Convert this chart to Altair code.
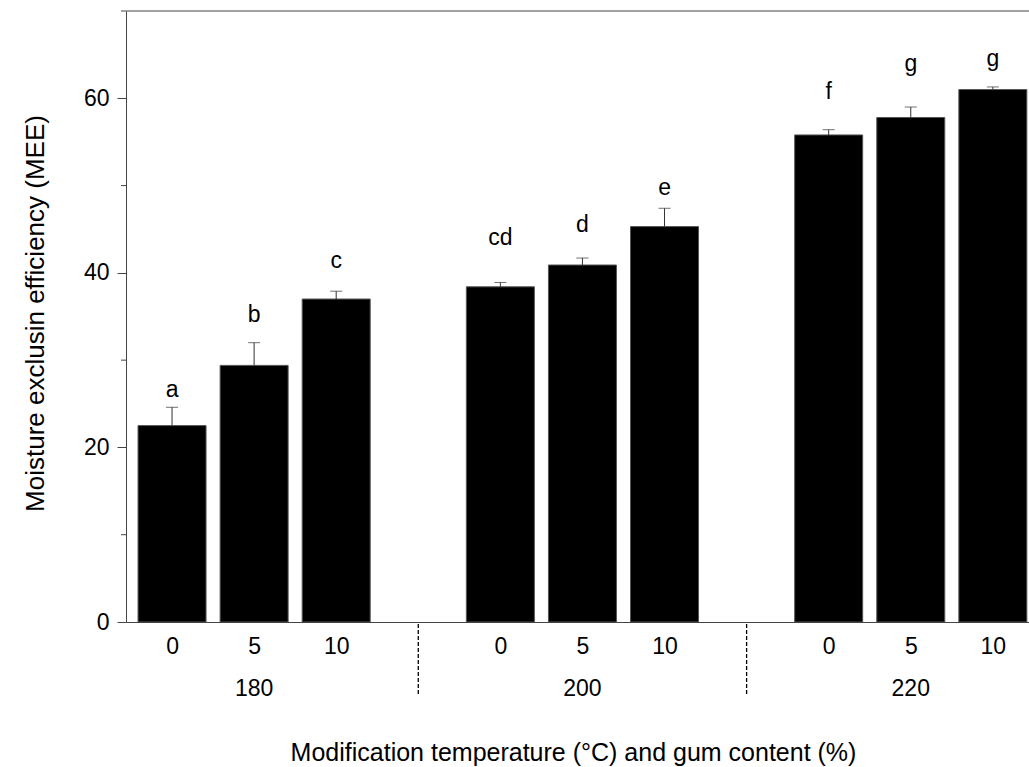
import altair as alt
import pandas as pd

# ---- data ----
positions = [0, 1, 2, 4, 5, 6, 8, 9, 10]          # slot index of each bar
gum_content = ["0", "5", "10", "0", "5", "10", "0", "5", "10"]
mee = [22.5, 29.4, 37.0, 38.4, 40.9, 45.3, 55.8, 57.8, 61.0]
err_upper = [24.6, 32.0, 37.9, 38.9, 41.7, 47.4, 56.4, 59.0, 61.3]
letters = ["a", "b", "c", "cd", "d", "e", "f", "g", "g"]
letter_y = [25.8, 34.4, 40.6, 43.2, 44.7, 48.9, 59.9, 63.1, 63.7]

temperatures = ["180", "200", "220"]
temperature_pos = [1, 5, 9]
separator_pos = [3, 7]

major_ticks = [0, 20, 40, 60]
minor_ticks = [10, 30, 50, 70]

FONT = "Liberation Sans"
W, H = 903, 611
TICK_FS = 23

df = pd.DataFrame({
    "pos": positions, "gum": gum_content, "mee": mee, "err": err_upper,
    "letter": letters, "ly": letter_y,
})
groups = pd.DataFrame({"pos": temperature_pos, "temp": temperatures})
seps = pd.DataFrame({"pos": separator_pos})
minors = pd.DataFrame({"mee": minor_ticks})

xscale = alt.Scale(domain=[-0.5, -0.5 + W / 83.0], nice=False, zero=False)
yscale = alt.Scale(domain=[0, 70], nice=False)

X_TITLE = "Modification temperature (°C) and gum content (%)"
Y_TITLE = "Moisture exclusin efficiency (MEE)"

x_axis = alt.Axis(
    values=positions,
    labelExpr="['0','5','10'][datum.value % 4]",
    ticks=False, tickSize=0, grid=False,
    labelFontSize=TICK_FS, labelFont=FONT, labelColor="black", labelPadding=13,
    domainColor="#444", domainWidth=1,
    title=X_TITLE,
    titleFont=FONT, titleFontSize=25, titleFontWeight="normal", titleColor="black",
    titleX=447, titleY=130, titleAlign="center", titleBaseline="middle",
    labelFlush=False,
)
y_axis = alt.Axis(
    values=major_ticks, grid=False,
    tickSize=9, tickColor="#444", domainColor="#444",
    labelFontSize=TICK_FS, labelFont=FONT, labelColor="black", labelPadding=8,
    title=Y_TITLE,
    titleFont=FONT, titleFontSize=26, titleFontWeight="normal", titleColor="black",
    titleX=-91, titleY=302, titleAngle=-90, titleAlign="center", titleBaseline="middle",
)

X = alt.X("pos:Q", scale=xscale, axis=x_axis, title=X_TITLE)


def Y(field):
    return alt.Y(field, scale=yscale, axis=y_axis, title=Y_TITLE)


base = alt.Chart(df)

bars = base.mark_bar(size=68, color="black", stroke="#555", strokeWidth=1, clip=True).encode(
    x=X, y=Y("mee:Q"),
)

err_line = base.mark_rule(color="#333", strokeWidth=1, clip=True).encode(
    x=X, y=Y("mee:Q"), y2="err:Q",
)
err_cap = base.mark_tick(orient="horizontal", size=12, thickness=1, color="#333", clip=True).encode(
    x=X, y=Y("err:Q"),
)

letter_text = base.mark_text(font=FONT, fontSize=23, baseline="alphabetic", align="center", color="black").encode(
    x=X, y=Y("ly:Q"), text="letter:N",
)

group_text = alt.Chart(groups).mark_text(font=FONT, fontSize=TICK_FS, baseline="middle", align="center", color="black").encode(
    x=X, y=alt.value(H + 67), text="temp:N",
)

sep_rules = alt.Chart(seps).mark_rule(color="black", strokeWidth=1.3, strokeDash=[4, 2]).encode(
    x=X, y=alt.value(H + 2), y2=alt.value(H + 73),
)

minor_rules = alt.Chart(minors).mark_rule(color="#444", strokeWidth=1).encode(
    y=Y("mee:Q"), x=alt.value(-5), x2=alt.value(0),
)

top_frame = alt.Chart(alt.Data(values=[{"k": 1}])).mark_rule(color="#444", strokeWidth=1).encode(
    x=alt.value(0), x2=alt.value(W), y=alt.value(0),
)

chart = alt.layer(
    bars, err_line, err_cap, letter_text, group_text, sep_rules, minor_rules, top_frame
).properties(
    width=W, height=H,
    padding={"left": 126, "top": 11, "right": 0, "bottom": 145},
    autosize=alt.AutoSizeParams(type="none"),
    background="white",
).configure_view(stroke=None)

chart.save("out.html", embed_options={"renderer": "svg", "actions": False})
